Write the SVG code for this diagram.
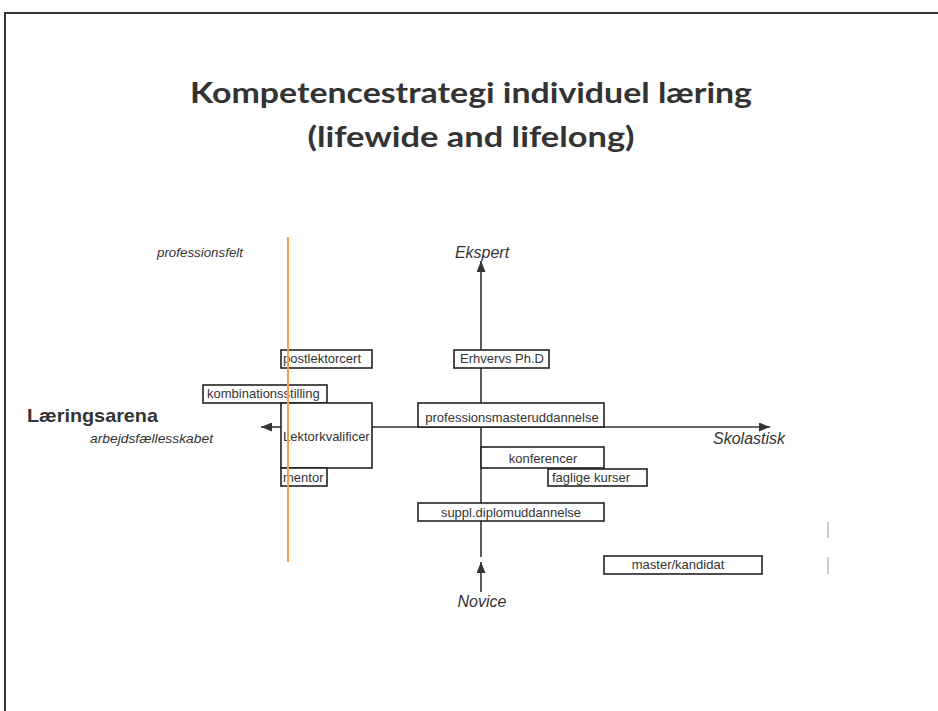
<svg xmlns="http://www.w3.org/2000/svg" width="938" height="711" viewBox="0 0 938 711">
<style>
  .frame{fill:none;stroke:#333;stroke-width:2}
  .title{font-family:Lato,"Open Sans","Liberation Sans",sans-serif;font-weight:bold;font-size:29px;fill:#333}
  .box{fill:#fff;stroke:#222;stroke-width:1.6}
  .lbl{font-family:"Liberation Sans",Arial,sans-serif;font-size:13px;fill:#333}
  .ax{font-family:"Liberation Sans",Arial,sans-serif;font-size:16px;font-style:italic;fill:#333}
  .it{font-family:"Liberation Sans",Arial,sans-serif;font-style:italic;fill:#333}
  .line{stroke:#333;stroke-width:1.6;fill:none}
  .tick{stroke:#bbb;stroke-width:1.5}
</style>
<defs>
  <marker id="ah" viewBox="0 0 10 10" refX="10" refY="5" markerWidth="11" markerHeight="9" markerUnits="userSpaceOnUse" orient="auto" preserveAspectRatio="none">
    <path d="M0,0 L10,5 L0,10 Z" fill="#333"/>
  </marker>
</defs>
<rect width="938" height="711" fill="#fff"/>
<path class="frame" d="M5,720 V13 H950"/>

<g id="title">
  <text class="title" x="471" y="103" text-anchor="middle" textLength="562" lengthAdjust="spacingAndGlyphs">Kompetencestrategi individuel læring</text>
  <text class="title" x="471" y="147" text-anchor="middle" textLength="327" lengthAdjust="spacingAndGlyphs">(lifewide and lifelong)</text>
</g>

<g id="connectors">
  <line class="line" x1="481" y1="557" x2="481" y2="261" marker-end="url(#ah)"/>
  <line class="line" x1="481" y1="592" x2="481" y2="562" marker-end="url(#ah)"/>
  <line class="line" x1="281" y1="427" x2="261" y2="427" marker-end="url(#ah)"/>
  <line class="line" x1="372" y1="427" x2="770" y2="427" marker-end="url(#ah)"/>
</g>

<g id="axis-labels">
  <text class="ax" x="482" y="258" text-anchor="middle">Ekspert</text>
  <text class="ax" x="482" y="607" text-anchor="middle">Novice</text>
  <text class="ax" x="713" y="444">Skolastisk</text>
  <text x="27" y="422" font-family="'Liberation Sans',Arial,sans-serif" font-weight="bold" font-size="18.5px" fill="#333" textLength="131" lengthAdjust="spacingAndGlyphs">Læringsarena</text>
  <text class="it" x="90" y="443" font-size="13.5px" textLength="123" lengthAdjust="spacingAndGlyphs">arbejdsfællesskabet</text>
  <text class="it" x="157" y="257" font-size="13px" textLength="86" lengthAdjust="spacingAndGlyphs">professionsfelt</text>
</g>

<g id="postlektorcert">
  <rect class="box" x="281" y="350" width="91" height="18"/>
  <text class="lbl" x="283" y="363">postlektorcert</text>
</g>
<g id="kombinationsstilling">
  <rect class="box" x="203" y="385" width="124" height="18"/>
  <text class="lbl" x="207" y="398">kombinationsstilling</text>
</g>
<g id="lektorkvalificering">
  <rect class="box" x="281" y="403" width="91" height="65"/>
  <text class="lbl" x="283" y="441">Lektorkvalificer</text>
</g>
<g id="mentor">
  <rect class="box" x="281" y="468" width="46" height="18"/>
  <text class="lbl" x="283" y="482">mentor</text>
</g>
<g id="erhvervs">
  <rect class="box" x="454" y="350" width="95" height="18"/>
  <text class="lbl" x="502" y="363" text-anchor="middle">Erhvervs Ph.D</text>
</g>
<g id="professionsmaster">
  <rect class="box" x="418" y="403" width="186" height="24"/>
  <text class="lbl" x="512" y="422" text-anchor="middle">professionsmasteruddannelse</text>
</g>
<g id="konferencer">
  <rect class="box" x="481" y="447" width="123" height="21"/>
  <text class="lbl" x="543" y="463" text-anchor="middle">konferencer</text>
</g>
<g id="faglige-kurser">
  <rect class="box" x="548" y="469" width="99" height="17"/>
  <text class="lbl" x="552" y="482">faglige kurser</text>
</g>
<g id="suppl-diplom">
  <rect class="box" x="418" y="503" width="186" height="18"/>
  <text class="lbl" x="511" y="517" text-anchor="middle">suppl.diplomuddannelse</text>
</g>
<g id="master-kandidat">
  <rect class="box" x="604" y="556" width="158" height="18"/>
  <text class="lbl" x="678" y="569" text-anchor="middle">master/kandidat</text>
</g>

<line x1="288" y1="237" x2="288" y2="562" stroke="#F5A04E" stroke-width="2"/>
<line class="tick" x1="828" y1="522" x2="828" y2="538"/>
<line class="tick" x1="828" y1="557" x2="828" y2="574"/>
</svg>
